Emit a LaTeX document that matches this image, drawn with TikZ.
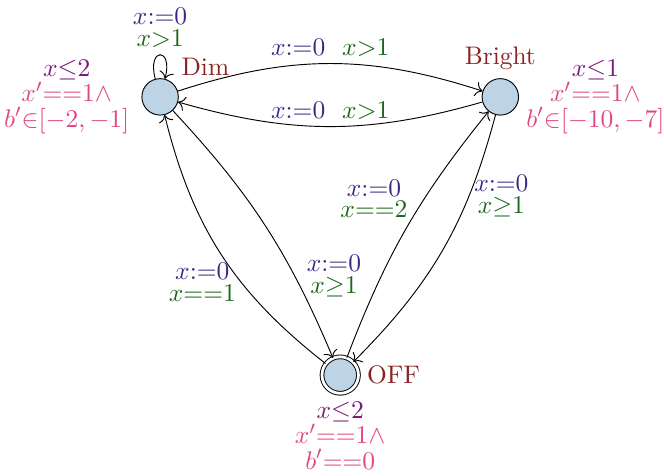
\documentclass[tikz,border=0pt]{standalone}
\usepackage{amsmath,amssymb}
\usepackage{tikz}
\usetikzlibrary{positioning,arrows.meta}
\usepackage{xcolor}

\definecolor{locred}{RGB}{139,35,35}
\definecolor{asgblue}{RGB}{60,40,130}
\definecolor{grdgreen}{RGB}{25,105,25}
\definecolor{invpurple}{RGB}{120,25,120}
\definecolor{flowpink}{RGB}{225,70,130}
\definecolor{locfill}{RGB}{189,212,231}

\newcommand{\asgn}[1]{\textcolor{asgblue}{$#1$}}
\newcommand{\grd}[1]{\textcolor{grdgreen}{$#1$}}

\begin{document}
\begin{tikzpicture}[
  >={To[scale=1.2]},
  font=\fontsize{10.9}{13}\selectfont,
  loc/.style={circle, draw, fill=locfill, minimum size=0.55cm, inner sep=0pt},
  locname/.style={text=locred},
  inv/.style={align=center, inner sep=1pt, font=\fontsize{10.9}{10.8}\selectfont},
  trans/.style={->},
  lbl/.style={align=center, inner sep=1pt, font=\fontsize{10.9}{9.4}\selectfont}
]
\useasboundingbox (0,0) rectangle (10.02,7.17);

% 状態
\node[loc, label={[locname]45:Dim}] (dim) at (2.416,5.708) {};
\node[loc, label={[locname]above:Bright}] (bright) at (7.55,5.708) {};
\node[loc, double, double distance=1.2pt, label={[locname]right:OFF}] (off) at (5.134,1.51) {};

% 不変条件
\node[inv, left=4pt of dim] (dim-inv) {\textcolor{invpurple}{$x{\leq}2$}\\ \textcolor{flowpink}{$x'{==}1{\wedge}$}\\ \textcolor{flowpink}{$b'{\in}[{-}2,{-}1]$}};
\node[inv, right=2pt of bright] (bright-inv) {\textcolor{invpurple}{$x{\leq}1$}\\ \textcolor{flowpink}{$x'{==}1{\wedge}$}\\ \textcolor{flowpink}{$b'{\in}[{-}10,{-}7]$}};
\node[inv, below=2.5pt of off] (off-inv) {\textcolor{invpurple}{$x{\leq}2$}\\ \textcolor{flowpink}{$x'{==}1{\wedge}$}\\ \textcolor{flowpink}{$b'{==}0$}};

% 遷移
\draw[trans] (dim) to[loop above] node[lbl, above=2pt] {\asgn{x{:=}0}\\ \grd{x{>}1}} (dim);
\draw[trans] (dim) to[bend left=18] node[lbl, above=2pt] {\asgn{x{:=}0}\ \ \grd{x{>}1}} (bright);
\draw[trans] (bright) to[bend left=16] node[lbl, above=2pt] {\asgn{x{:=}0}\ \ \grd{x{>}1}} (dim);
\draw[trans] (dim) to[bend left=10] node[lbl, right=4pt, pos=0.71] {\asgn{x{:=}0}\\ \grd{x{\geq}1}} (off);
\draw[trans] (off) to[bend left=19] node[lbl, left=1pt, pos=0.38] {\asgn{x{:=}0}\\ \grd{x{==}1}} (dim);
\draw[trans] (off) to[bend left=9] node[lbl, left=6pt, pos=0.63] {\asgn{x{:=}0}\\ \grd{x{==}2}} (bright);
\draw[trans] (bright) to[bend left=15] node[lbl, right=1pt, pos=0.28] {\asgn{x{:=}0}\\ \grd{x{\geq}1}} (off);
\end{tikzpicture}
\end{document}
